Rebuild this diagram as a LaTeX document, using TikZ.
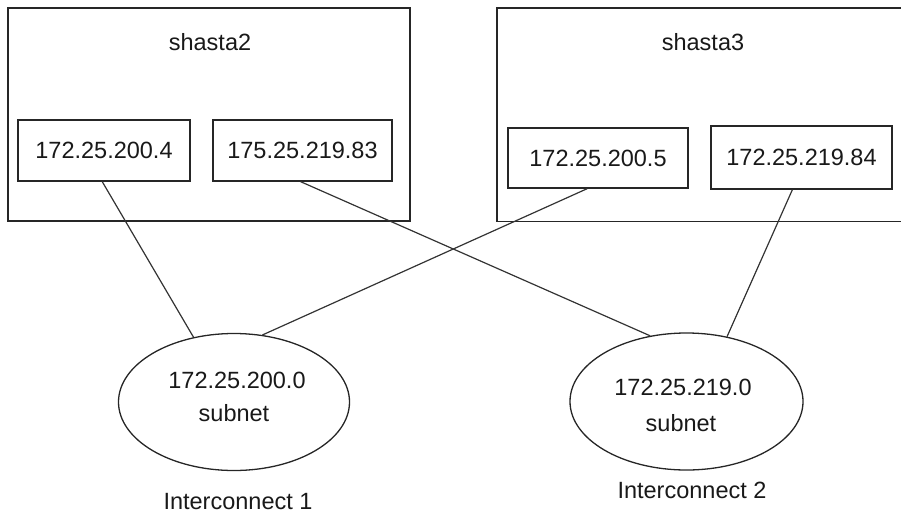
\documentclass[tikz,border=0pt]{standalone}
\usepackage{fontspec}
\setmainfont{Liberation Sans}
\usetikzlibrary{shapes.geometric,calc}
\begin{document}
\begin{tikzpicture}[x=1pt,y=-1pt,
  every node/.style={font=\fontsize{23.5}{28}\selectfont, text=black!90, inner sep=0pt},
  host/.style={draw=black!85, line width=1.4pt, rectangle},
  hostline/.style={draw=black!85, line width=1.4pt},
  ipbox/.style={draw=black!85, line width=1.4pt, rectangle},
  subnetell/.style={draw=black!85, line width=1.3pt, ellipse, minimum width=231pt, minimum height=137pt},
  link/.style={draw=black!80, line width=1.2pt}]
\useasboundingbox (0,0) rectangle (901,514);
% host boxes
\node[host, minimum width=402pt, minimum height=213pt] (h2) at (209,114.5) {};
\node[rectangle, minimum width=420pt, minimum height=213pt] (h3) at (707,114.5) {};
\draw[hostline] (h3.north east) -- (h3.north west) -- (h3.south west) -- (h3.south east);
\node (h2t) at (210,42) {shasta2};
\node (h3t) at (703,42) {shasta3};
% interface boxes
\node[ipbox, minimum width=172pt, minimum height=61pt] (b1) at (104,150.5) {172.25.200.4};
\node[ipbox, minimum width=179pt, minimum height=61pt] (b2) at (302.5,150.5) {175.25.219.83};
\node[ipbox, minimum width=180pt, minimum height=60pt] (b3) at (598,158) {172.25.200.5};
\node[ipbox, minimum width=181pt, minimum height=63pt] (b4) at (801.5,157.5) {172.25.219.84};
% subnets
\node[subnetell] (e1) at (234,402) {};
\node[subnetell, minimum width=233pt] (e2) at (686.5,401.5) {};
\node (e1a) at (237,380) {172.25.200.0};
\node (e1b) at (234,413) {subnet};
\node (e2a) at (683,387) {172.25.219.0};
\node (e2b) at (681,423) {subnet};
\node (i1) at (238,502) {Interconnect 1};
\node (i2) at (692,490) {Interconnect 2};
% links
\draw[link] ($(b1.south west)!0.49!(b1.south east)$) -- (e1.122);
\draw[link] ($(b2.south west)!0.49!(b2.south east)$) -- (e2.119);
\draw[link] ($(b3.south west)!0.44!(b3.south east)$) -- (e1.67);
\draw[link] ($(b4.south west)!0.45!(b4.south east)$) -- (e2.58);
\end{tikzpicture}
\end{document}
